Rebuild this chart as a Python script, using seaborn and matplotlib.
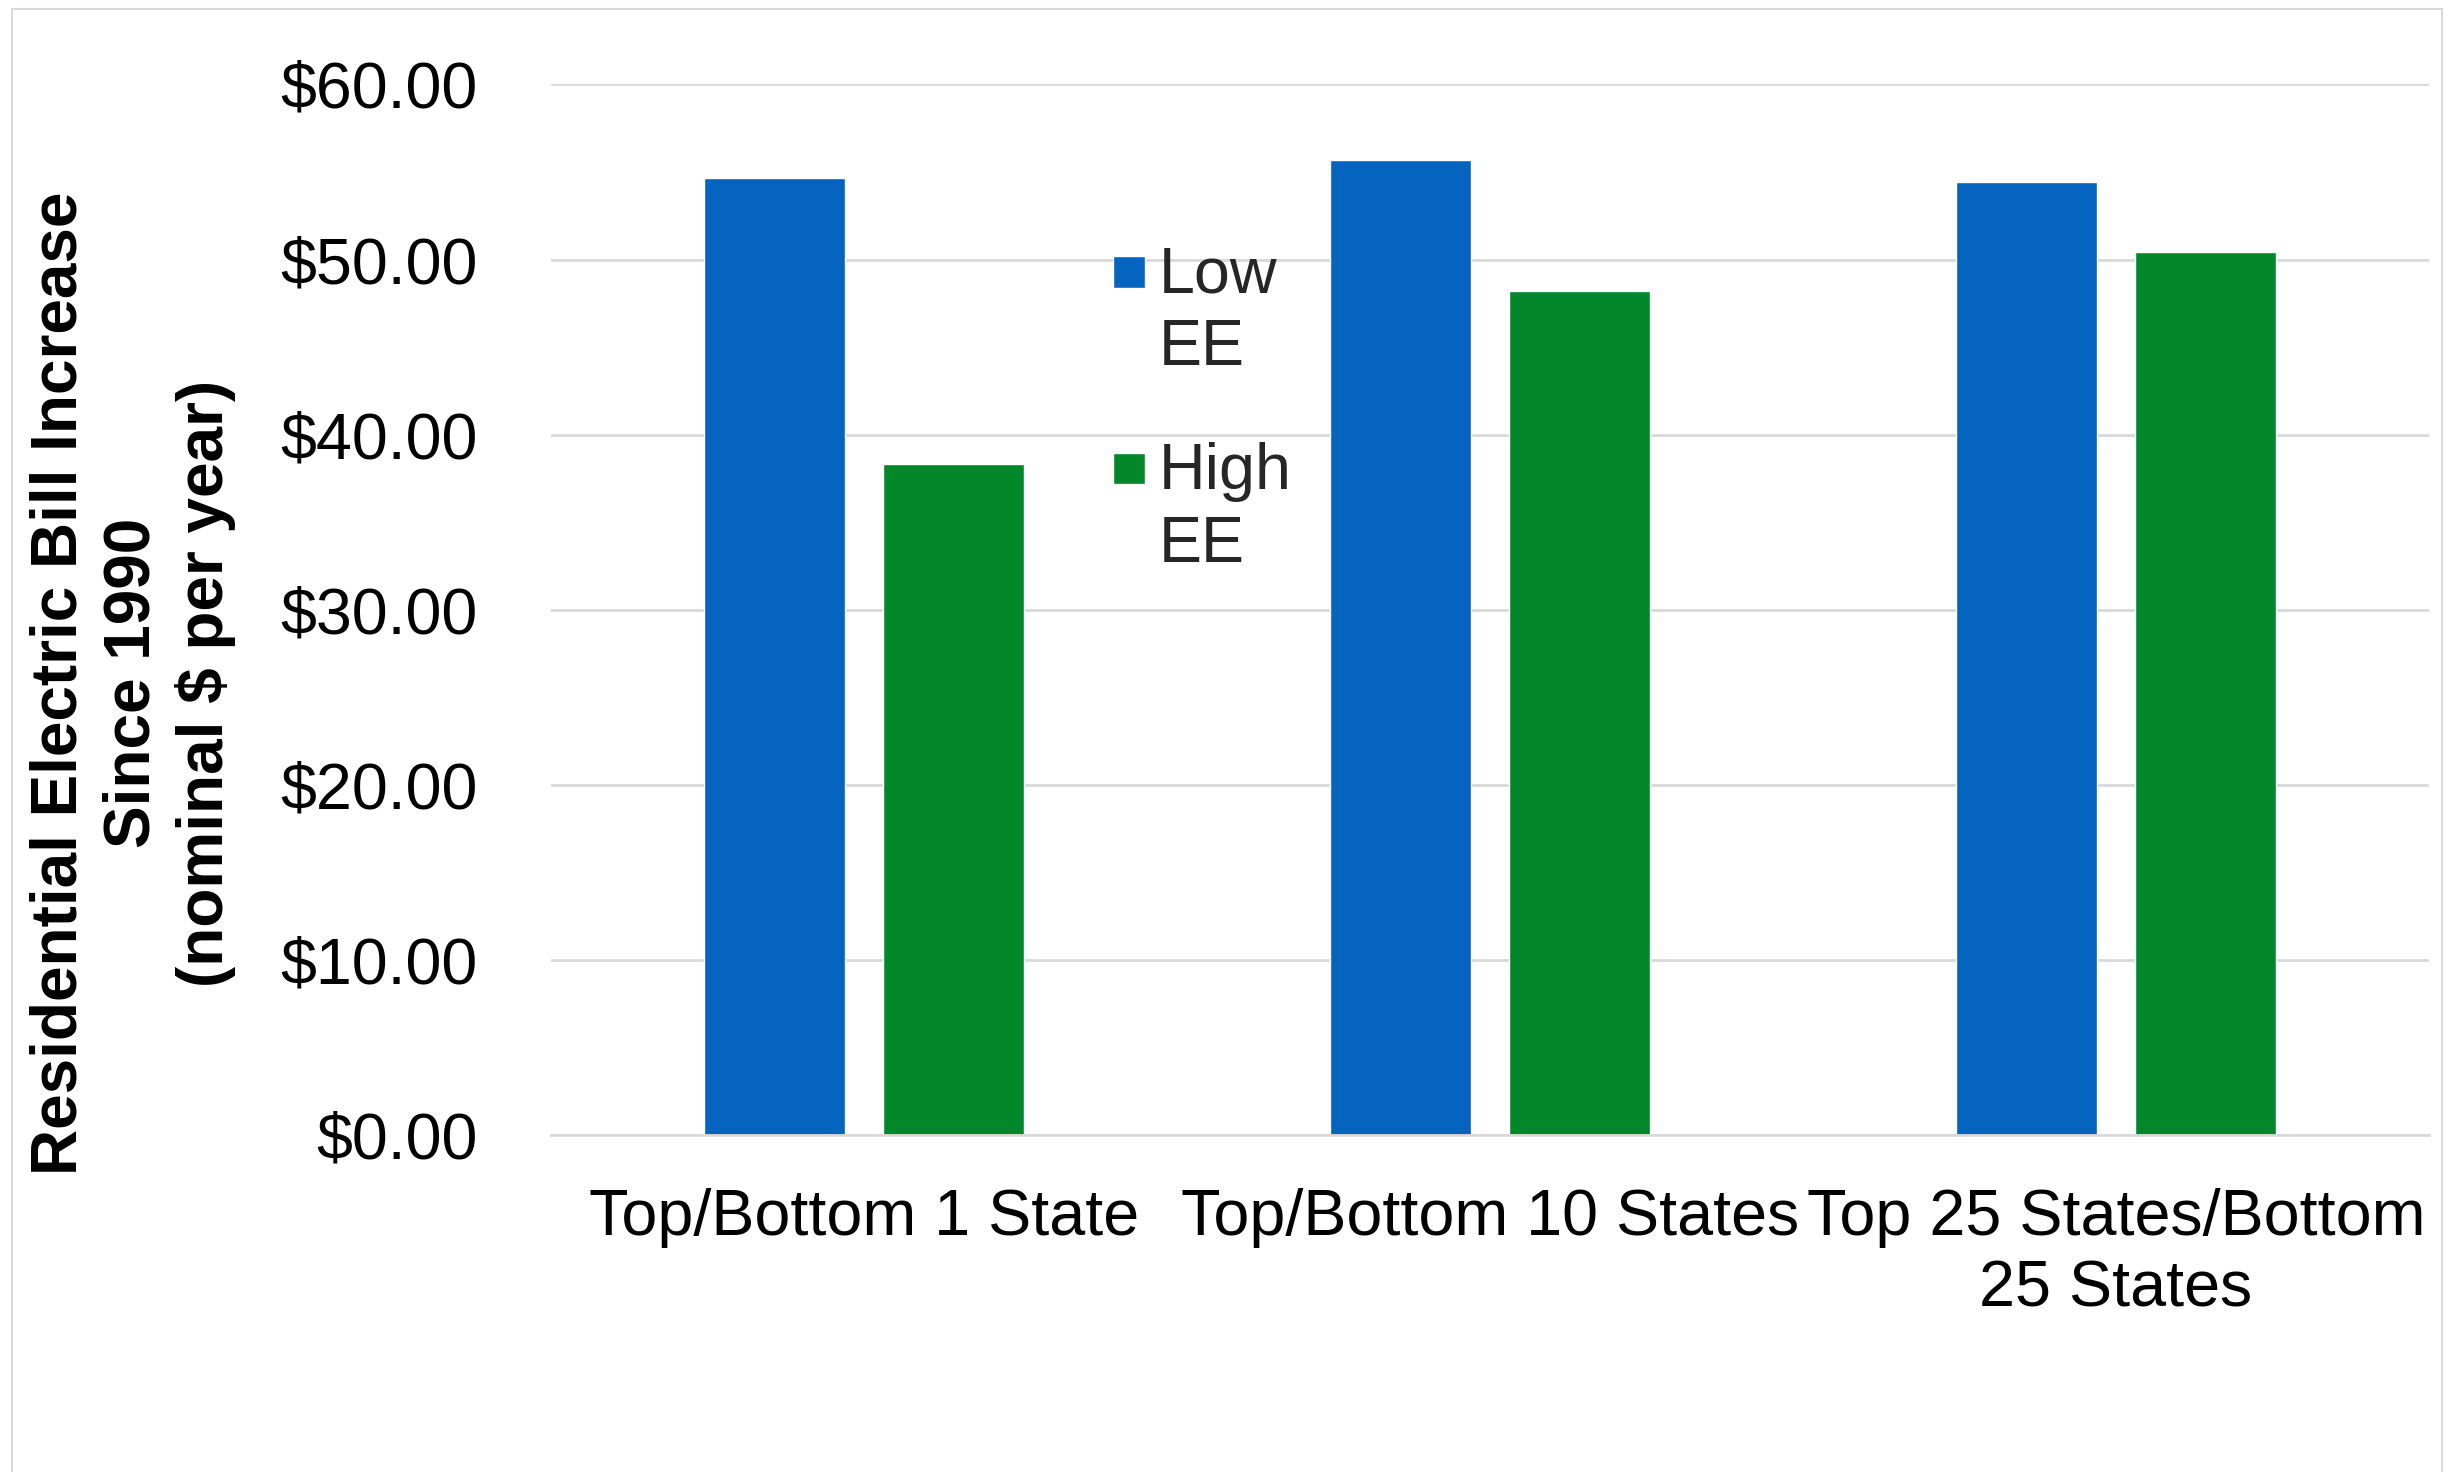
import matplotlib
matplotlib.use("Agg")
import matplotlib.pyplot as plt
import matplotlib.patches as mpatches
from matplotlib.legend_handler import HandlerPatch
import pandas as pd
import seaborn as sns

categories = ["Top/Bottom 1 State", "Top/Bottom 10 States",
              "Top 25 States/Bottom\n25 States"]
low_ee = [54.65, 55.70, 54.45]
high_ee = [38.35, 48.20, 50.45]
series = ["Low EE", "High EE"]
colors = ["#0564C0", "#02882B"]

df = pd.DataFrame({
    "group": categories * 2,
    "value": low_ee + high_ee,
    "series": [series[0]] * 3 + [series[1]] * 3,
})

sns.set_theme(style="white")
plt.rcParams["font.family"] = ["Liberation Sans", "DejaVu Sans"]

FS = 46.5

fig = plt.figure(figsize=(24.54, 14.72), dpi=100)
ax = fig.add_axes([0.2245, 0.2289, 0.7653, 0.7137])

sns.barplot(data=df, x="group", y="value", hue="series", order=categories,
            hue_order=series, palette=colors, width=0.57, gap=0.21,
            saturation=1, ax=ax, legend=True)

ax.set_ylim(0, 60)
ax.set_xlim(-0.5, 2.5)
ax.set_yticks(range(0, 61, 10))
ax.set_yticklabels([f"${v:.2f}" for v in range(0, 61, 10)])
ax.yaxis.grid(True, color="#d9d9d9", linewidth=2)
ax.set_axisbelow(True)
for s in ["top", "right", "left"]:
    ax.spines[s].set_visible(False)
ax.spines["bottom"].set_color("#d9d9d9")
ax.spines["bottom"].set_linewidth(2)

ax.tick_params(axis="y", length=0, pad=53, labelsize=FS, labelcolor="black")
ax.tick_params(axis="x", length=0, pad=38, labelsize=FS, labelcolor="black")
for t in ax.get_xticklabels():
    t.set_multialignment("center")
    t.set_linespacing(1.24)

ax.set_xlabel("")
ax.set_ylabel("Residential Electric Bill Increase\nSince 1990\n(nominal $ per year)",
              fontsize=46, fontweight="bold", color="black", va="center",
              linespacing=1.27)
ax.yaxis.set_label_coords(-0.2226, 0.43)


def square(legend, orig_handle, xdescent, ydescent, width, height, fontsize):
    s = 0.49 * fontsize
    off = 0.16 * fontsize
    return mpatches.Rectangle((-xdescent, -ydescent + height - off - s), s, s)


handles, _ = ax.get_legend_handles_labels()
leg = ax.legend(handles, ["Low\nEE", "High\nEE"], loc="upper left",
                bbox_to_anchor=(0.2993, 0.8467), frameon=False, fontsize=FS,
                handlelength=0.49, handleheight=1.0, handletextpad=0.22,
                labelspacing=1.0, borderaxespad=0, borderpad=0,
                handler_map={mpatches.Rectangle: HandlerPatch(patch_func=square)})
for t in leg.get_texts():
    t.set_linespacing(1.26)
for col in leg._legend_handle_box.get_children():
    for row in col.get_children():
        row.align = "top"

fig.patches.append(mpatches.Rectangle((0.005, -0.01), 0.99, 1.004,
                                      transform=fig.transFigure, fill=False,
                                      edgecolor="#d9d9d9", linewidth=1.5))

fig.savefig("out.png", dpi=100, facecolor="white")
